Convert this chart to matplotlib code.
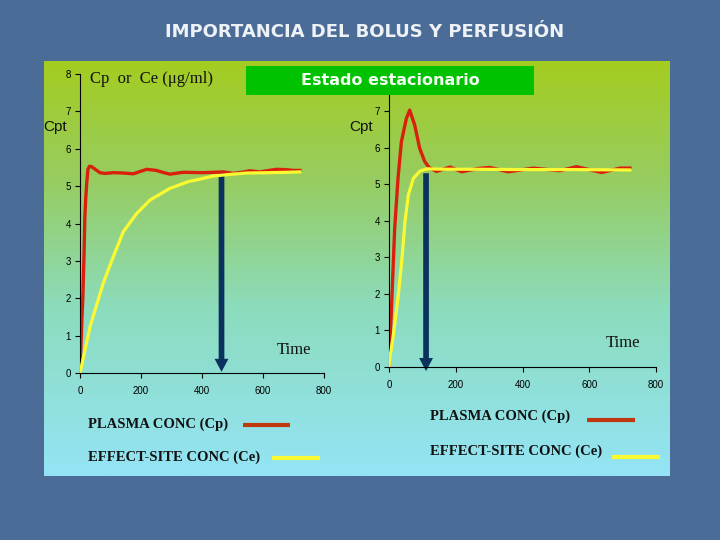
import numpy as np
import matplotlib
matplotlib.use("Agg")
import matplotlib.pyplot as plt
from matplotlib.patches import Rectangle
from matplotlib.lines import Line2D

# ------------------- DATOS -------------------
# panel izquierdo: perfusión continua
left_cp_t = [0, 3, 6, 9, 13, 16, 19, 22, 26, 31, 38, 50, 65, 82, 110, 142, 175, 200, 219, 250,
             275, 295, 320, 339, 400, 440, 470, 503, 530, 557, 590, 620, 645, 675, 700, 721]
left_cp = [0, 0.7, 1.4, 1.95, 3.1, 4.2, 4.7, 5.07, 5.45, 5.53, 5.52, 5.45, 5.36, 5.34, 5.36, 5.35, 5.33, 5.4, 5.45, 5.42,
           5.36, 5.32, 5.35, 5.37, 5.36, 5.37, 5.38, 5.34, 5.37, 5.41, 5.38, 5.42, 5.45, 5.44, 5.42, 5.42]
left_ce_t = [0, 33, 76, 109, 142, 186, 230, 295, 355, 400, 437, 500, 546, 620, 680, 721]
left_ce = [0, 1.24, 2.4, 3.11, 3.78, 4.27, 4.63, 4.94, 5.12, 5.2, 5.27, 5.32, 5.35, 5.36, 5.37, 5.38]

# panel derecho: bolus + perfusión
right_cp_t = [0, 7, 17, 27, 37, 52, 62, 77, 92, 107, 120, 142, 183, 218, 267, 302, 357, 432, 512, 562, 637, 692, 722]
right_cp = [0, 1.5, 3.79, 5.16, 6.16, 6.8, 7.03, 6.62, 5.98, 5.62, 5.46, 5.35, 5.47, 5.34, 5.43, 5.46, 5.34, 5.44, 5.37,
            5.48, 5.32, 5.44, 5.44]
right_ce_t = [0, 2, 13, 28, 38, 48, 58, 73, 93, 113, 173, 243, 400, 550, 722]
right_ce = [0, 0.2, 0.87, 1.97, 2.88, 3.98, 4.71, 5.16, 5.36, 5.42, 5.41, 5.41, 5.4, 5.4, 5.39]

arrow_t = [464, 111]
arrow_top = [5.37, 5.3]
arrow_tip = [0.03, -0.12]

x_ticks = [0, 200, 400, 600, 800]
left_y_ticks = [0, 1, 2, 3, 4, 5, 6, 7, 8]
right_y_ticks = [0, 1, 2, 3, 4, 5, 6, 7]

title = "IMPORTANCIA DEL BOLUS Y PERFUSIÓN"

# ------------------- ESTILO -------------------
W, H = 720, 540
RED = "#d8200c"
YELLOW = "#fafa32"
ARROW = "#0b325e"
SERIF = "Liberation Serif"
SANS = "Liberation Sans"


def fx(px):
    return px / W


def fy(py):
    return 1 - py / H


fig = plt.figure(figsize=(7.2, 5.4), dpi=100)
fig.patch.set_facecolor("#4b6c97")

# fondo degradado del panel
bg = fig.add_axes([fx(44), fy(476), fx(670) - fx(44), (476 - 61) / H])
stops_y = np.array([0.0, 0.3, 0.6, 1.0])
stops_c = np.array([[164, 204, 32], [150, 205, 100], [140, 220, 190], [148, 228, 246]]) / 255
yy = np.linspace(0, 1, 256)
grad = np.stack([np.interp(yy, stops_y, stops_c[:, k]) for k in range(3)], axis=-1)
bg.imshow(grad[:, None, :], aspect="auto", extent=[0, 1, 1, 0])
bg.set_axis_off()


def style_axes(ax, ylim, yticks):
    ax.set_xlim(0, 800)
    ax.set_ylim(*ylim)
    ax.set_xticks(x_ticks)
    ax.set_yticks(yticks)
    ax.patch.set_visible(False)
    for s in ["top", "right"]:
        ax.spines[s].set_visible(False)
    for s in ["left", "bottom"]:
        ax.spines[s].set_linewidth(0.8)
    ax.tick_params(direction="out", length=3.5, width=0.8, labelsize=7)
    ax.tick_params(axis="x", pad=6)
    ax.tick_params(axis="y", pad=3)
    for lab in ax.get_xticklabels() + ax.get_yticklabels():
        lab.set_family(SANS)


ax1 = fig.add_axes([fx(80), fy(373), (324 - 80) / W, (373 - 74) / H])
ax2 = fig.add_axes([fx(389), fy(366.7), (656 - 389) / W, (366.7 - 95) / H])
style_axes(ax1, (0, 8), left_y_ticks)
style_axes(ax2, (0, (366.7 - 95) / 36.5), right_y_ticks)

panels = [(ax1, left_cp_t, left_cp, left_ce_t, left_ce),
          (ax2, right_cp_t, right_cp, right_ce_t, right_ce)]
for i, (ax, tp, cp, te, ce) in enumerate(panels):
    ax.annotate("", xy=(arrow_t[i], arrow_tip[i]), xytext=(arrow_t[i], arrow_top[i]),
                arrowprops=dict(arrowstyle="simple,head_length=0.94,head_width=1.0,tail_width=0.41",
                                mutation_scale=10, fc=ARROW, ec="none", lw=0, shrinkA=0, shrinkB=0),
                annotation_clip=False, zorder=1)
    ax.plot(tp, cp, color=RED, lw=2.4, zorder=2, solid_joinstyle="round")
    ax.plot(te, ce, color=YELLOW, lw=2.3, zorder=3, solid_joinstyle="round")

# ------------------- TEXTOS -------------------
fig.text(fx(365), fy(32), title, ha="center", va="center", color="#eef2f6",
         fontsize=13, fontweight="bold", family="DejaVu Sans")

box = Rectangle((fx(246), fy(95)), (534 - 246) / W, (95 - 66) / H, transform=fig.transFigure,
                facecolor="#00c200", edgecolor="none", zorder=5)
fig.add_artist(box)
fig.text(fx(390), fy(80.5), "Estado estacionario", ha="center", va="center", color="#f4fff4",
         fontsize=11.5, fontweight="bold", family="DejaVu Sans", zorder=6)

fig.text(fx(90), fy(79), "Cp  or  Ce (μg/ml)", ha="left", va="center", fontsize=12, family=SERIF, color="#111111")
fig.text(fx(55.5), fy(127.5), "Cpt", ha="center", va="center", fontsize=11, family=SANS, color="#111111")
fig.text(fx(361), fy(127.5), "Cpt", ha="center", va="center", fontsize=11, family=SANS, color="#111111")
fig.text(fx(294), fy(350), "Time", ha="center", va="center", fontsize=12, family=SERIF, color="#111111")
fig.text(fx(623.5), fy(343), "Time", ha="center", va="center", fontsize=12, family=SERIF, color="#111111")

legend = [
    (88, 424, "PLASMA CONC (Cp)", (243, 290, 425), "#c0380f"),
    (88, 457, "EFFECT-SITE CONC (Ce)", (272, 320, 458), YELLOW),
    (430, 416.5, "PLASMA CONC (Cp)", (587, 635, 420), "#c0380f"),
    (430, 451.5, "EFFECT-SITE CONC (Ce)", (612, 660, 456.5), YELLOW),
]
for tx, ty, label, (x0, x1, ly), col in legend:
    fig.text(fx(tx), fy(ty), label, ha="left", va="center", fontsize=10.5, fontweight="bold",
             family=SERIF, color="#111111")
    fig.add_artist(Line2D([fx(x0), fx(x1)], [fy(ly), fy(ly)], transform=fig.transFigure,
                          color=col, lw=3, solid_capstyle="butt"))

fig.savefig("out.png", dpi=100)
plt.close(fig)
